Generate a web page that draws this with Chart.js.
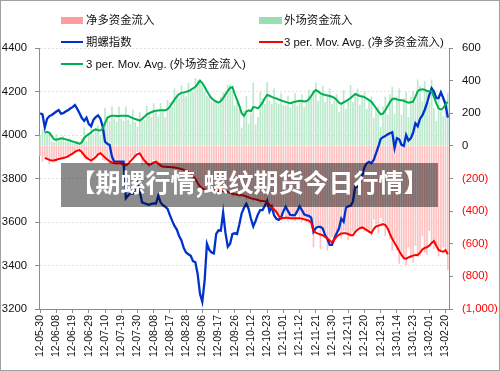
<!DOCTYPE html>
<html>
<head>
<meta charset="utf-8">
<script src="https://cdn.jsdelivr.net/npm/chart.js@4/dist/chart.umd.min.js"></script>
<style>
  html, body { margin: 0; padding: 0; background: #fff; }
  #wrap { position: relative; width: 500px; height: 371px; overflow: hidden; }
  #frame { position: absolute; left: 0; top: 0; width: 500px; height: 371px; box-sizing: border-box; border: 1px solid #a0a0a0; pointer-events: none; }
  .leg { position: absolute; font: 11.4px "Liberation Sans", Arial, "Noto Sans CJK SC", sans-serif; color: #111; white-space: nowrap; line-height: 14px; }
  .sw { position: absolute; }
  #banner { position: absolute; left: 61px; top: 163px; width: 377px; height: 44px; background: rgba(0,0,0,0.45);
            color: #fff; font: bold 25px "Noto Sans CJK SC", sans-serif; text-align: center; line-height: 36px; white-space: nowrap; }
</style>
</head>
<body>
<div id="wrap">
  <canvas id="chart"></canvas>
  <div class="sw" style="left:61px;top:17px;width:22px;height:7px;background:#ff9c9c"></div>
  <div class="leg" style="left:86px;top:13px">净多资金流入</div>
  <div class="sw" style="left:259px;top:17px;width:23px;height:7px;background:#9adfb3"></div>
  <div class="leg" style="left:284px;top:13px">外场资金流入</div>
  <div class="sw" style="left:61px;top:41px;width:22px;height:2px;background:#0033cc"></div>
  <div class="leg" style="left:86px;top:35px">期螺指数</div>
  <div class="sw" style="left:259px;top:41px;width:24px;height:2px;background:#ff0000"></div>
  <div class="leg" style="left:284px;top:35px">3 per. Mov. Avg. (净多资金流入)</div>
  <div class="sw" style="left:61px;top:63px;width:22px;height:2px;background:#00b050"></div>
  <div class="leg" style="left:86px;top:57px">3 per. Mov. Avg. (外场资金流入)</div>
  <div id="banner">【期螺行情,螺纹期货今日行情】</div>
  <div id="frame"></div>
</div>
<script>
// tick labels on the x axis, one every 7 trading days
const xTickLabels = ['12-05-30','12-06-08','12-06-19','12-06-29','12-07-10','12-07-19','12-07-30','12-08-08',
  '12-08-17','12-08-28','12-09-06','12-09-17','12-09-26','12-10-12','12-10-23','12-11-01','12-11-12',
  '12-11-21','12-11-30','12-12-11','12-12-20','12-12-31','13-01-14','13-01-23','13-02-01','13-02-20'];

// 净多资金流入 (bars, right axis)
const netLong = [
  -60,-95,-65,-80,-110,-80,-85,-95,-65,-80,
  -80,-55,-70,-45,-40,-30,-20,-35,-55,-75,
  -85,-80,-100,-65,-50,-45,-40,-85,-90,-80,
  -110,-105,-100,-115,-100,-110,-130,-115,-95,-75,
  -60,-55,-35,-50,-120,-110,-100,-130,-105,-85,
  -105,-125,-130,-125,-130,-135,-120,-140,-135,-130,
  -150,-145,-150,-170,-170,-180,-210,-220,-260,-270,
  -250,-280,-270,-260,-285,-270,-265,-290,-275,-270,
  -295,-285,-285,-310,-295,-290,-315,-300,-300,-330,
  -320,-315,-340,-330,-325,-350,-340,-330,-365,-380,
  -380,-410,-420,-460,-455,-410,-450,-460,-420,-450,
  -460,-420,-450,-465,-435,-465,-475,-470,-620,-505,
  -490,-630,-520,-525,-640,-575,-560,-590,-520,-525,
  -565,-520,-525,-575,-545,-525,-515,-500,-500,-500,
  -525,-525,-530,-550,-450,-480,-535,-440,-465,-550,
  -500,-570,-640,-575,-640,-720,-645,-700,-730,-620,
  -685,-715,-610,-680,-675,-550,-650,-665,-520,-600,
  -630,-610,-675,-650,-620,-650,-760
];

// 外场资金流入 (bars, right axis)
const outside = [
  60,100,85,75,80,25,20,70,35,35,
  60,25,25,45,10,15,30,-10,45,110,
  30,75,140,70,95,125,65,125,230,160,
  150,240,165,145,240,165,150,240,160,130,
  220,145,115,205,175,155,245,200,175,260,
  215,175,260,220,175,280,265,240,350,315,
  290,370,325,300,385,345,325,415,400,385,
  370,330,305,300,270,270,275,250,300,325,
  320,370,375,335,245,265,225,110,215,305,
  135,195,385,130,175,330,290,255,390,275,
  255,350,265,255,320,245,245,305,235,255,
  320,245,265,315,235,275,345,300,340,385,
  275,305,365,265,300,350,255,275,315,205,
  255,340,225,285,370,265,320,350,250,310,
  335,225,285,300,170,225,240,115,240,300,
  190,315,360,195,300,350,190,290,330,175,
  300,335,265,405,365,270,395,340,265,405,
  230,150,310,205,180,280,320
];

// 期螺指数 (line, left axis)
const rebarIndex = [
  4100,4095,4035,4075,4087,4092,4100,4108,4115,4098,
  4100,4108,4114,4122,4128,4138,4120,4100,4078,4065,
  4080,4050,4040,4070,4082,4090,4075,4040,3969,3960,
  3954,3900,3877,3877,3878,3877,3877,3709,3722,3732,
  3730,3750,3778,3740,3690,3686,3682,3679,3683,3686,
  3685,3720,3690,3677,3670,3660,3632,3605,3582,3565,
  3535,3515,3480,3460,3452,3445,3420,3415,3360,3270,
  3233,3330,3500,3472,3460,3456,3545,3562,3560,3643,
  3550,3486,3500,3545,3548,3545,3590,3640,3665,3684,
  3660,3615,3580,3605,3635,3655,3655,3675,3698,3648,
  3670,3630,3615,3610,3620,3650,3670,3650,3632,3632,
  3632,3650,3672,3655,3635,3630,3628,3620,3555,3572,
  3578,3578,3570,3540,3522,3495,3495,3525,3548,3570,
  3615,3601,3665,3672,3675,3693,3762,3762,3780,3812,
  3852,3870,3877,3870,3885,3915,3946,3982,3990,3995,
  4003,4008,4013,3940,3985,3980,3955,3950,4000,3975,
  3985,4010,4054,4040,4075,4090,4115,4146,4184,4215,
  4200,4170,4170,4196,4170,4140,4080
];

// 3 per. Mov. Avg. (净多资金流入)
const netLongAvg = [
  null,null,-73,-80,-86,-90,-90,-85,-80,-77,
  -74,-70,-64,-55,-47,-37,-29,-26,-38,-57,
  -72,-82,-90,-80,-68,-52,-45,-58,-71,-83,
  -95,-102,-106,-106,-105,-108,-114,-120,-110,-93,
  -78,-62,-50,-46,-70,-90,-105,-116,-112,-102,
  -97,-108,-120,-128,-128,-129,-130,-131,-133,-135,
  -138,-142,-147,-154,-163,-172,-186,-202,-228,-250,
  -260,-267,-269,-270,-272,-273,-274,-275,-276,-278,
  -280,-283,-288,-294,-297,-299,-301,-303,-305,-310,
  -316,-322,-325,-328,-332,-336,-338,-340,-345,-360,
  -375,-390,-405,-430,-445,-442,-440,-441,-443,-444,
  -444,-443,-443,-446,-450,-455,-458,-470,-522,-532,
  -538,-543,-548,-558,-568,-580,-592,-575,-556,-545,
  -537,-536,-536,-540,-548,-548,-528,-514,-505,-500,
  -508,-516,-526,-535,-510,-494,-489,-485,-480,-485,
  -505,-540,-570,-595,-618,-645,-668,-688,-692,-684,
  -678,-673,-669,-669,-655,-635,-626,-621,-612,-595,
  -583,-612,-638,-645,-649,-640,-665
];

// 3 per. Mov. Avg. (外场资金流入)
const outsideAvg = [
  null,null,81,86,80,60,40,38,42,47,
  44,40,36,32,27,23,18,12,22,48,
  62,72,82,95,102,96,94,105,140,172,
  180,184,185,183,183,184,185,185,183,176,
  170,165,160,155,165,178,192,200,206,212,
  216,217,218,218,218,225,240,262,285,302,
  318,325,328,331,336,343,352,362,380,400,
  385,362,335,312,292,280,272,265,275,292,
  315,338,355,360,318,282,245,200,184,210,
  218,212,238,236,230,245,265,292,312,307,
  300,294,290,284,279,274,270,265,261,266,
  271,274,277,275,272,275,285,306,328,342,
  334,322,316,312,309,306,301,294,282,265,
  258,266,274,283,293,306,318,312,306,303,
  299,290,281,270,252,232,212,193,198,218,
  243,268,288,290,285,281,279,277,270,265,
  268,271,300,335,345,347,344,336,333,337,
  300,262,230,222,232,255,270
];

const dayIndex = netLong.map((_, i) => i);

const axisGrey = '#8c8c8c';
const fontFamily = '"Liberation Sans", Arial, "Noto Sans CJK SC", sans-serif';

function fmtRight(v){
  if(v < 0) return '(' + Math.abs(v).toLocaleString('en-US') + ')';
  return String(v);
}

new Chart(document.getElementById('chart'), {
  type: 'bar',
  data: {
    labels: dayIndex,
    datasets: [
      {label:'3 per. Mov. Avg. (净多资金流入)', type:'line', data: netLongAvg, yAxisID:'y1',
       borderColor:'#ff0000', borderWidth:2, pointRadius:0, tension:0, order:1},
      {label:'3 per. Mov. Avg. (外场资金流入)', type:'line', data: outsideAvg, yAxisID:'y1',
       borderColor:'#00b050', borderWidth:2, pointRadius:0, tension:0, order:2},
      {label:'期螺指数', type:'line', data: rebarIndex, yAxisID:'y',
       borderColor:'#0033cc', borderWidth:2.3, pointRadius:0, tension:0, order:3},
      {label:'净多资金流入', data: netLong, yAxisID:'y1', backgroundColor:'#ffc0c0',
       barThickness:1, grouped:false, order:5},
      {label:'外场资金流入', data: outside, yAxisID:'y1', backgroundColor:'#bce9cc',
       barThickness:1, grouped:false, order:6}
    ]
  },
  options: {
    responsive: true,
    maintainAspectRatio: false,
    animation: false,
    layout: {padding: {top: 48, left: 0, right: 0, bottom: 0}},
    plugins: {legend: {display: false}, tooltip: {enabled: false}},
    scales: {
      x: {
        type: 'category',
        offset: true,
        grid: {
          offset: false, drawOnChartArea: false, tickLength: 4,
          color: ctx => (ctx.index % 7 === 0 ? axisGrey : 'rgba(0,0,0,0)')
        },
        border: {color: axisGrey},
        ticks: {
          autoSkip: false, minRotation: 90, maxRotation: 90, padding: 2,
          color: '#111', font: {family: fontFamily, size: 10.5},
          callback: (v, i) => (i % 7 === 0 ? xTickLabels[i / 7] : '')
        },
        afterFit: s => { s.height = 62; }
      },
      y: {
        position: 'left', min: 3200, max: 4400,
        ticks: {stepSize: 200, padding: 8, color: '#111', font: {family: fontFamily, size: 11.3},
                callback: v => String(v)},
        grid: {color: '#e2e2e2', tickColor: axisGrey, tickLength: 4},
        border: {color: axisGrey, dash: [2, 2]},
        afterFit: s => { s.width = 39; }
      },
      y1: {
        position: 'right', min: -1000, max: 600,
        ticks: {
          stepSize: 200, padding: 9, font: {family: fontFamily, size: 11.3},
          color: ctx => (ctx.tick && ctx.tick.value < 0 ? '#ff0000' : '#111'),
          callback: v => fmtRight(v)
        },
        grid: {drawOnChartArea: false, tickColor: axisGrey, tickLength: 4},
        border: {color: axisGrey},
        afterFit: s => { s.width = 51; }
      }
    }
  }
});
</script>
</body>
</html>
